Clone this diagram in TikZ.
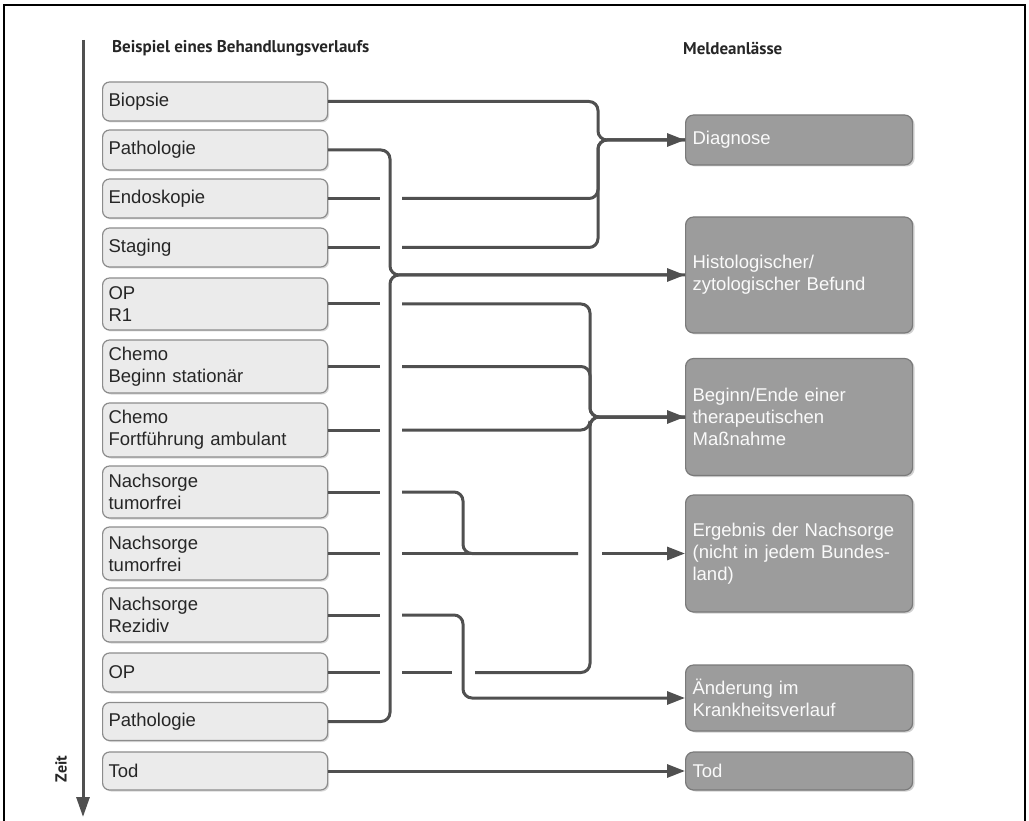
\documentclass[tikz,border=0pt]{standalone}
\usepackage{fontspec}
\setmainfont{Liberation Sans}
\newfontfamily\headfont{PT Sans}
\usetikzlibrary{arrows.meta,shadows}

\definecolor{linegray}{HTML}{505050}
\definecolor{evtfill}{HTML}{EBEBEB}
\definecolor{evtedge}{HTML}{8C8C8C}
\definecolor{melfill}{HTML}{9C9C9C}
\definecolor{meledge}{HTML}{7A7A7A}

\begin{document}
\begin{tikzpicture}[x=1pt,y=-1pt,
  conn/.style={draw=linegray, line width=3pt, rounded corners=9pt},
  arr/.style={-{Triangle[length=18pt,width=13pt]}},
  evt/.style={draw=evtedge, fill=evtfill, line width=1.2pt, rounded corners=7pt,
    minimum width=225pt, text width=213pt, inner xsep=6pt, inner ysep=0pt,
    align=left, anchor=west, text=black!85,
    font=\fontsize{18.5}{22}\selectfont,
    drop shadow={shadow xshift=1.5pt, shadow yshift=-1.5pt, opacity=0.3, fill=black!50}},
  mel/.style={draw=meledge, fill=melfill, line width=1.2pt, rounded corners=8pt,
    minimum width=225pt, text width=213pt, inner xsep=7pt, inner ysep=0pt,
    align=left, anchor=west, text=white!96!gray,
    font=\fontsize{18.5}{22}\selectfont,
    drop shadow={shadow xshift=2pt, shadow yshift=-1.5pt, opacity=0.3, fill=black!60}},
  head/.style={anchor=west, inner sep=0pt, text=black!85,
    font=\headfont\bfseries\fontsize{17}{20}\selectfont}]

\useasboundingbox (0,0) rectangle (1029,821);

% open frame
\draw[line width=1.5pt] (4,821) -- (4,5) -- (1025,5) -- (1025,821);

% headings
\node[head] (hleft) at (112,48) {Beispiel eines Behandlungsverlaufs};
\node[head] (hright) at (683,48) {Meldeanlässe};

% time axis
\coordinate (tstart) at (83,40);
\coordinate (tend) at (83,817);
\draw[draw=linegray, line width=3pt, -{Triangle[length=20pt,width=13pt]}] (tstart) -- (tend);
\node[rotate=90, inner sep=0pt, text=black!85, font=\headfont\bfseries\fontsize{16}{18}\selectfont] (zeit) at (61,769) {Zeit};

% treatment events
\node[evt, minimum height=39pt] (biop) at (102,101.5) {Biopsie};
\node[evt, minimum height=40pt] (path1) at (102,150) {Pathologie};
\node[evt, minimum height=39pt] (endo) at (102,198.5) {Endoskopie};
\node[evt, minimum height=39pt] (stag) at (102,247.5) {Staging};
\node[evt, minimum height=52pt] (op1) at (102,304) {OP\\R1};
\node[evt, minimum height=53pt] (chemo1) at (102,366.5) {Chemo\\Beginn stationär};
\node[evt, minimum height=54pt] (chemo2) at (102,430) {Chemo\\Fortführung ambulant};
\node[evt, minimum height=52pt] (nach1) at (102,492) {Nachsorge\\tumorfrei};
\node[evt, minimum height=53pt] (nach2) at (102,553.5) {Nachsorge\\tumorfrei};
\node[evt, minimum height=54pt] (rez) at (102,615) {Nachsorge\\Rezidiv};
\node[evt, minimum height=39pt] (op2) at (102,672.5) {OP};
\node[evt, minimum height=38pt] (path2) at (102,721.5) {Pathologie};
\node[evt, minimum height=38pt] (tod1) at (102,771) {Tod};

% reporting occasions
\node[mel, minimum height=50pt] (diag) at (685,140) {Diagnose};
\node[mel, minimum height=116pt] (hist) at (685,275) {Histologischer/\\zytologischer Befund};
\node[mel, minimum height=117pt] (ther) at (685,417) {Beginn/Ende einer\\therapeutischen\\Maßnahme};
\node[mel, minimum height=117pt] (ergb) at (685,553.5) {Ergebnis der Nachsorge\\(nicht in jedem Bundes-\\land)};
\node[mel, minimum height=66pt] (aend) at (685,698) {Änderung im\\Krankheitsverlauf};
\node[mel, minimum height=38pt] (tod2) at (685,771) {Tod};

% vertical trunks and gap edges
\coordinate (ga) at (380,0);
\coordinate (gb) at (402,0);
\coordinate (xp) at (390,0);
\coordinate (gc) at (452,0);
\coordinate (xn) at (463,0);
\coordinate (gd) at (475,0);
\coordinate (ge) at (578,0);
\coordinate (xt) at (590,0);
\coordinate (gf) at (602,0);
\coordinate (xd) at (598,0);

% Diagnose
\draw[conn, arr] (biop.east) -- (biop.east -| xd) |- (diag.west);
\draw[conn] (endo.east) -- (endo.east -| ga);
\draw[conn] (endo.east -| gb) -- (endo.east -| xd) |- (diag.west);
\draw[conn] (stag.east) -- (stag.east -| ga);
\draw[conn] (stag.east -| gb) -- (stag.east -| xd) |- (diag.west);

% Histologischer/zytologischer Befund
\draw[conn, arr] (path1.east) -- (path1.east -| xp) |- (hist.west);
\draw[conn] (path2.east) -- (path2.east -| xp) |- (hist.west);

% therapeutische Massnahme
\draw[conn] (op1.east) -- (op1.east -| ga);
\draw[conn, arr] (op1.east -| gb) -- (op1.east -| xt) |- (ther.west);
\draw[conn] (chemo1.east) -- (chemo1.east -| ga);
\draw[conn] (chemo1.east -| gb) -- (chemo1.east -| xt) |- (ther.west);
\draw[conn] (chemo2.east) -- (chemo2.east -| ga);
\draw[conn] (chemo2.east -| gb) -- (chemo2.east -| xt) |- (ther.west);
\draw[conn] (op2.east) -- (op2.east -| ga);
\draw[conn] (op2.east -| gb) -- (op2.east -| gc);
\draw[conn] (op2.east -| gd) -- (op2.east -| xt) |- (ther.west);

% Ergebnis der Nachsorge
\draw[conn] (nach1.east) -- (nach1.east -| ga);
\draw[conn] (nach1.east -| gb) -- (nach1.east -| xn) |- (nach2.east -| ge);
\draw[conn] (nach2.east) -- (nach2.east -| ga);
\draw[conn] (nach2.east -| gb) -- (nach2.east -| ge);
\draw[conn, arr] (nach2.east -| gf) -- (ergb.west);

% Aenderung im Krankheitsverlauf
\draw[conn] (rez.east) -- (rez.east -| ga);
\draw[conn, arr] (rez.east -| gb) -- (rez.east -| xn) |- (aend.west);

% Tod
\draw[conn, arr] (tod1.east) -- (tod2.west);

\end{tikzpicture}
\end{document}
